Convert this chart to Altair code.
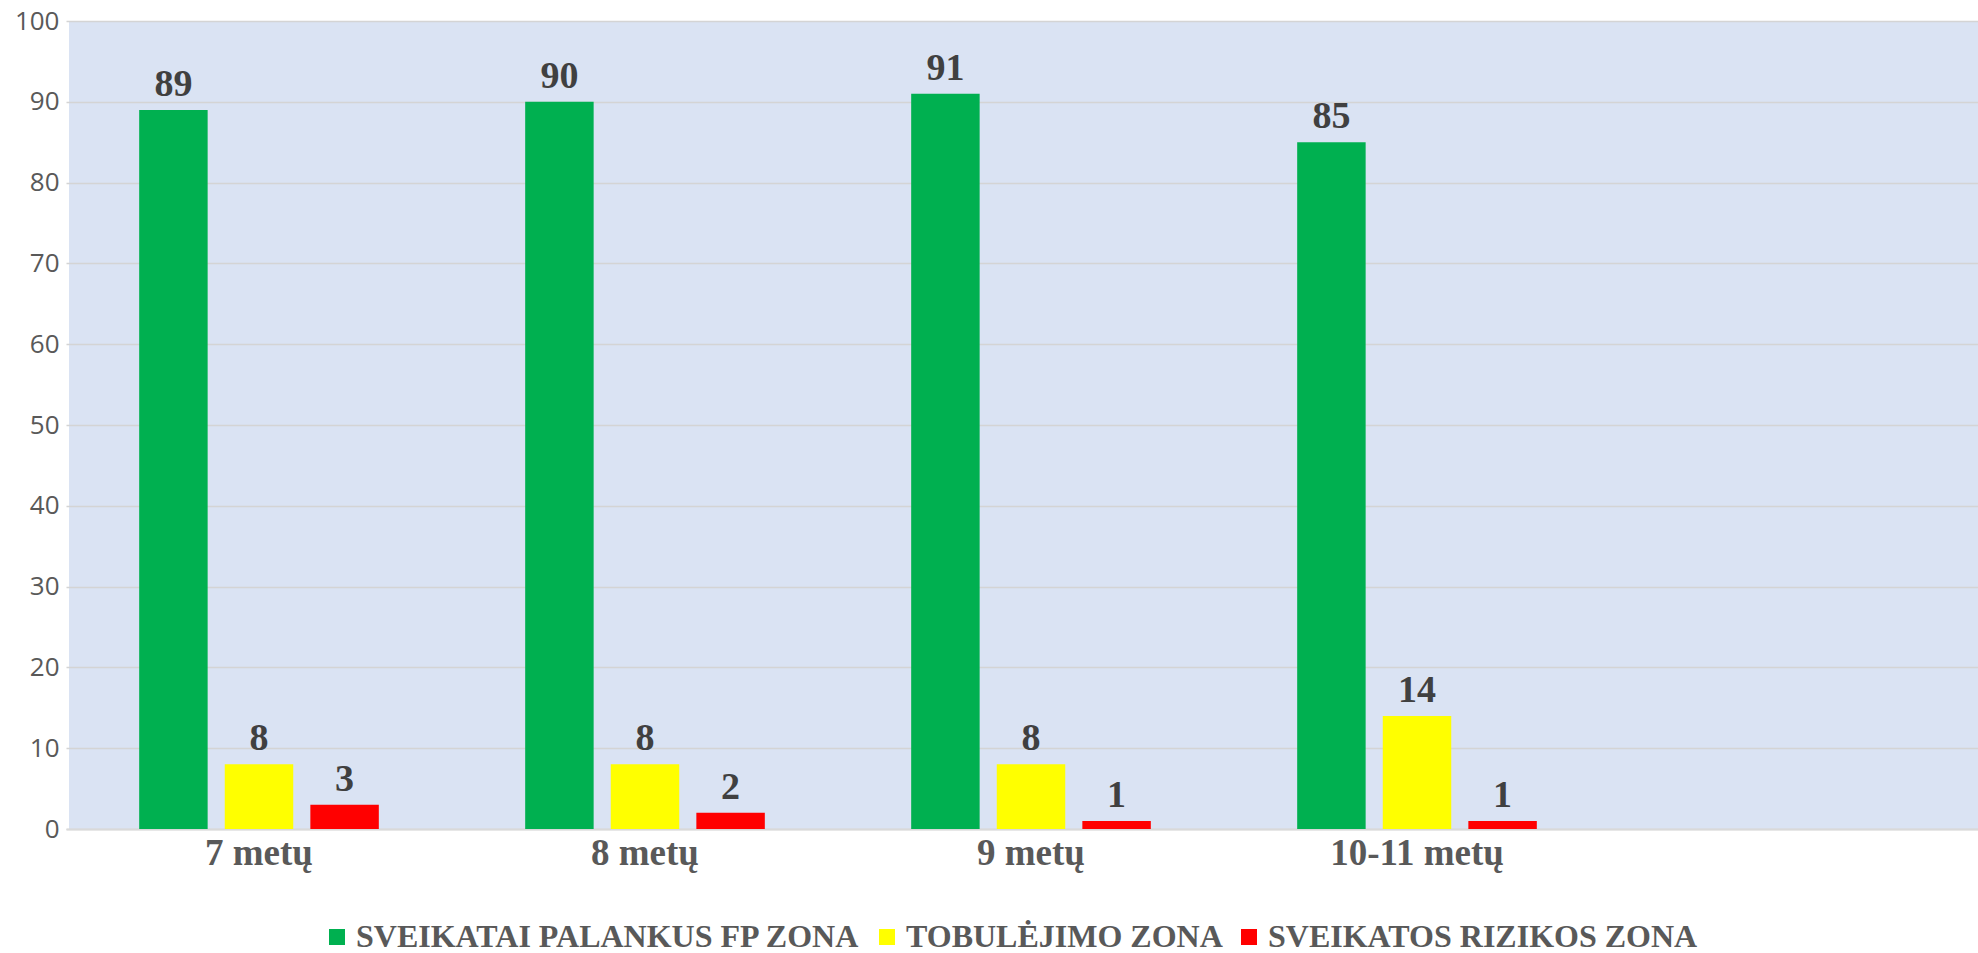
import altair as alt
import pandas as pd

categories = ["7 metų", "8 metų", "9 metų", "10-11 metų"]
slots = categories + [" "]
series = ["SVEIKATAI PALANKUS FP ZONA", "TOBULĖJIMO ZONA", "SVEIKATOS RIZIKOS ZONA"]
colors = ["#00B050", "#FFFF00", "#FF0000"]
palankus = [89, 90, 91, 85]
tobulejimo = [8, 8, 8, 14]
rizikos = [3, 2, 1, 1]

rows = []
for i, c in enumerate(categories):
    for s, vals in zip(series, [palankus, tobulejimo, rizikos]):
        rows.append({"cat": c, "series": s, "value": vals[i]})
df = pd.DataFrame(rows)

x_enc = alt.X("cat:N", sort=slots,
              scale=alt.Scale(domain=slots, range=[-3, 1927], paddingInner=0, paddingOuter=0),
              axis=alt.Axis(title=None, labelAngle=0, ticks=False, domain=True, domainColor="#D9D9D9",
                            domainWidth=2, labelFont="Liberation Serif", labelFontWeight="bold",
                            labelFontSize=37, labelColor="#595959", labelPadding=6, grid=False))
xoff = alt.XOffset("series:N", sort=series,
                   scale=alt.Scale(domain=series, paddingInner=0.2, paddingOuter=0.855))
y_enc = alt.Y("value:Q", scale=alt.Scale(domain=[0, 100], nice=False),
              axis=alt.Axis(title=None, values=list(range(0, 101, 10)), ticks=False, domain=False,
                            gridColor="#D4D4D4", gridWidth=1.5, labelFont="Open Sans",
                            labelFontSize=26, labelColor="#595959", labelPadding=10))

bars = alt.Chart(df).mark_bar().encode(
    x=x_enc, xOffset=xoff, y=y_enc,
    color=alt.Color("series:N", sort=series,
                    scale=alt.Scale(domain=series, range=colors),
                    legend=alt.Legend(title=None, orient="none", direction="horizontal",
                                      legendX=252, legendY=900, symbolType="square",
                                      symbolSize=256, symbolStrokeWidth=0, labelFont="Liberation Serif",
                                      labelFontWeight="bold", labelFontSize=32, labelColor="#595959",
                                      labelOffset=3, columnPadding=10, labelLimit=1000))
)

labels = alt.Chart(df).mark_text(
    baseline="alphabetic", dy=-14, font="Liberation Serif", fontWeight="bold",
    fontSize=38, color="#404040"
).encode(x=x_enc, xOffset=xoff, y=y_enc, text="value:Q")

chart = alt.layer(bars, labels).properties(
    width=1909, height=808,
    autosize=alt.AutoSizeParams(type="none"),
    padding={"left": 69, "top": 21, "right": 0, "bottom": 124},
    background="white",
).configure_view(fill="#DAE3F3", stroke=None)

chart.save("out.html", embed_options={"renderer": "svg", "actions": False})
